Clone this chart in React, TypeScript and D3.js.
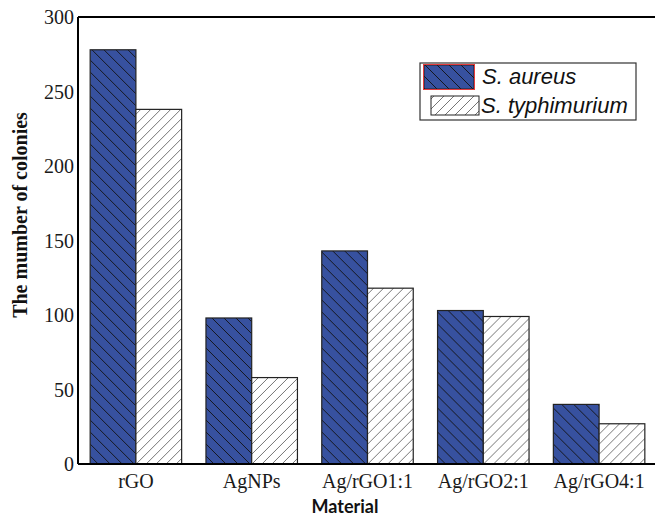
import React from "react";
import * as d3 from "d3";

const materials = ["rGO", "AgNPs", "Ag/rGO1:1", "Ag/rGO2:1", "Ag/rGO4:1"];
const seriesNames = ["S. aureus", "S. typhimurium"];
const aureus = [278, 98, 143, 103, 40];
const typhimurium = [238, 58, 118, 99, 27];
const yTicks = [0, 50, 100, 150, 200, 250, 300];

const W = 655;
const H = 516;
const left = 78;
const right = 657;
const top = 17;
const bottom = 464;

export default function App() {
  const x = d3
    .scaleBand<string>()
    .domain(materials)
    .range([left, right])
    .paddingInner(0.21)
    .paddingOuter(0.105);
  const inner = d3
    .scaleBand<string>()
    .domain(seriesNames)
    .range([0, x.bandwidth()]);
  const y = d3.scaleLinear().domain([0, 300]).range([bottom, top]);

  const rows = materials.map((m, i) => ({
    m,
    values: [
      { s: seriesNames[0], v: aureus[i] },
      { s: seriesNames[1], v: typhimurium[i] },
    ],
  }));
  const fills = ["url(#hatchBlue)", "url(#hatchWhite)"];

  return (
    <svg
      width={W}
      height={H}
      style={{ position: "absolute", left: 0, top: 0, background: "#fff" }}
    >
      <defs>
        <pattern
          id="hatchBlue"
          patternUnits="userSpaceOnUse"
          width={12}
          height={12}
        >
          <rect width={12} height={12} fill="#37519f" />
          <path
            d="M-3,-3 L15,15 M-15,-3 L3,15 M9,-3 L27,15"
            stroke="#111"
            strokeWidth={0.9}
          />
        </pattern>
        <pattern
          id="hatchWhite"
          patternUnits="userSpaceOnUse"
          width={10}
          height={10}
        >
          <rect width={10} height={10} fill="#fff" />
          <path
            d="M-3,13 L13,-3 M-13,13 L3,-3 M7,13 L23,-3"
            stroke="#666"
            strokeWidth={0.9}
          />
        </pattern>
      </defs>

      {rows.map((r) => (
        <g key={r.m} transform={`translate(${x(r.m)},0)`}>
          {r.values.map((d, j) => (
            <rect
              key={d.s}
              x={inner(d.s)}
              y={y(d.v)}
              width={inner.bandwidth()}
              height={y(0) - y(d.v)}
              fill={fills[j]}
              stroke="#222"
              strokeWidth={1.2}
            />
          ))}
        </g>
      ))}

      {/* frame: left axis, top line, baseline */}
      <line x1={left} y1={top} x2={left} y2={bottom} stroke="#000" strokeWidth={2} />
      <line x1={left} y1={top} x2={W} y2={top} stroke="#000" strokeWidth={2} />
      <line x1={left} y1={bottom} x2={W} y2={bottom} stroke="#000" strokeWidth={2} />

      {/* y tick labels */}
      {yTicks.map((t) => (
        <text
          key={t}
          x={left - 4}
          y={y(t)}
          dy="0.35em"
          textAnchor="end"
          fontFamily="'Liberation Serif', serif"
          fontSize={20}
          fill="#1a1a1a"
        >
          {t}
        </text>
      ))}

      {/* x tick labels */}
      {materials.map((m) => (
        <text
          key={m}
          x={(x(m) ?? 0) + x.bandwidth() / 2}
          y={488}
          textAnchor="middle"
          fontFamily="'Liberation Serif', serif"
          fontSize={20}
          fill="#1a1a1a"
        >
          {m}
        </text>
      ))}

      <text
        x={345}
        y={513}
        textAnchor="middle"
        fontFamily="Lato, sans-serif"
        fontWeight={700}
        fontSize={18}
        fill="#111"
      >
        Material
      </text>

      <text
        transform={`translate(27,215) rotate(-90)`}
        textAnchor="middle"
        fontFamily="'Liberation Serif', serif"
        fontWeight={700}
        fontSize={20}
        fill="#111"
      >
        The mumber of colonies
      </text>

      {/* legend */}
      <g>
        <rect x={420} y={63} width={216} height={57} fill="#fff" stroke="#333" strokeWidth={1.2} />
        <rect x={424} y={65} width={50} height={24} fill={fills[0]} stroke="#222" strokeWidth={1} />
        <rect x={423.5} y={64.5} width={51} height={25} fill="none" stroke="#e53b3b" strokeWidth={1} />
        <rect x={431} y={96} width={48} height={19} fill={fills[1]} stroke="#222" strokeWidth={1} />
        <text
          x={482}
          y={84}
          fontFamily="'Liberation Sans', Arial, sans-serif"
          fontStyle="italic"
          fontSize={22}
          fill="#111"
        >
          {seriesNames[0]}
        </text>
        <text
          x={481}
          y={113}
          fontFamily="'Liberation Sans', Arial, sans-serif"
          fontStyle="italic"
          fontSize={22}
          fill="#111"
        >
          {seriesNames[1]}
        </text>
      </g>
    </svg>
  );
}
